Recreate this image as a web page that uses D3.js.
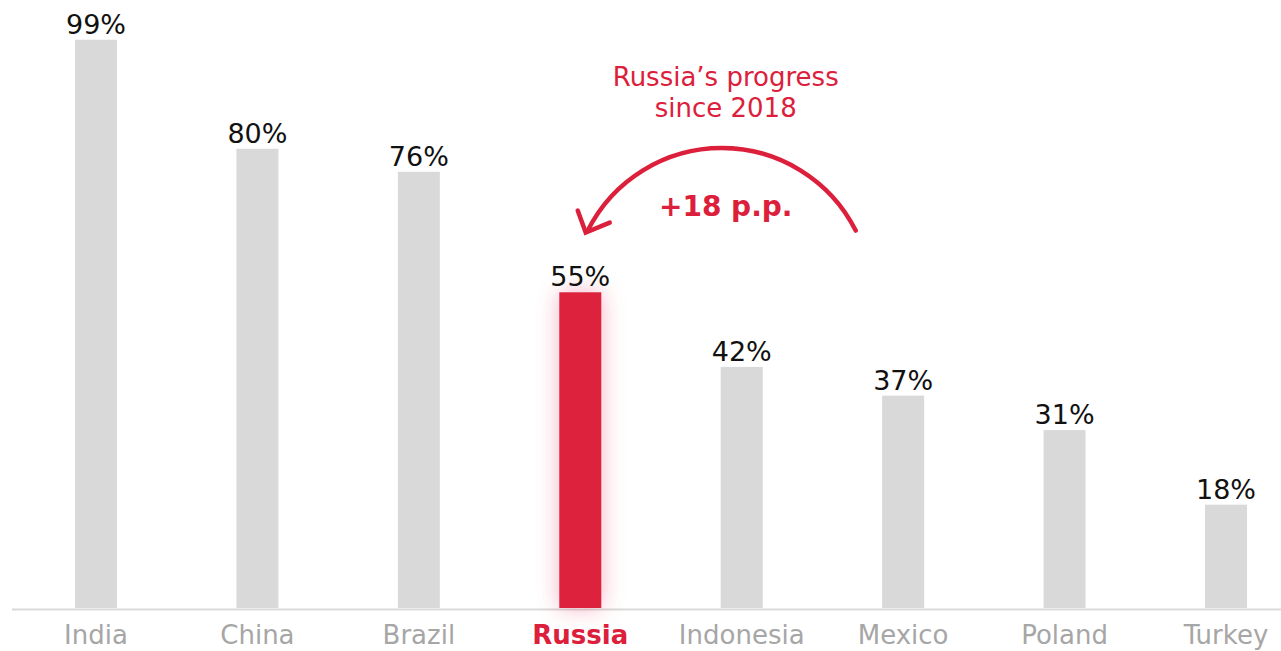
<!DOCTYPE html>
<html lang="en">
<head>
<meta charset="UTF-8">
<script src="https://d3js.org/d3.v7.min.js"></script>
<title>Share by country</title>
<style>
  body { margin: 0; background: #fff; }
  svg text { font-family: "DejaVu Sans", Verdana, sans-serif; }
</style>
</head>
<body>
<svg id="chart" width="1281" height="651"></svg>
<script>
// data
var countries = ["India", "China", "Brazil", "Russia", "Indonesia", "Mexico", "Poland", "Turkey"];
var shares = [99, 80, 76, 55, 42, 37, 31, 18];
var highlight = "Russia";
var noteLines = ["Russia\u2019s progress", "since 2018"];
var noteValue = "+18 p.p.";

var red = "#dc203c";
var grey = "#d9d9d9";

var svg = d3.select("#chart");

var x = d3.scalePoint()
    .domain(countries)
    .range([96, 1226]);

var y = d3.scaleLinear()
    .domain([0, 100])
    .range([608, 34]);

var barW = 42;

// glow for the highlighted bar
var defs = svg.append("defs");
var f = defs.append("filter").attr("id", "glow")
    .attr("x", "-150%").attr("y", "-20%").attr("width", "400%").attr("height", "140%");
f.append("feGaussianBlur").attr("in", "SourceAlpha").attr("stdDeviation", 11).attr("result", "b");
f.append("feFlood").attr("flood-color", red).attr("flood-opacity", 0.3);
f.append("feComposite").attr("in2", "b").attr("operator", "in").attr("result", "g");
var m = f.append("feMerge");
m.append("feMergeNode").attr("in", "g");
m.append("feMergeNode").attr("in", "SourceGraphic");

var data = countries.map(function(c, i){ return {c: c, v: shares[i]}; });

// baseline
svg.append("line")
    .attr("x1", 12).attr("x2", 1281)
    .attr("y1", y(0) + 1.5).attr("y2", y(0) + 1.5)
    .attr("stroke", grey).attr("stroke-width", 2);

svg.selectAll(".bar")
    .data(data)
    .enter().append("rect")
    .attr("class", "bar")
    .attr("x", function(d){ return x(d.c) - barW / 2; })
    .attr("y", function(d){ return y(d.v); })
    .attr("width", barW)
    .attr("height", function(d){ return y(0) - y(d.v); })
    .attr("fill", function(d){ return d.c == highlight ? red : grey; })
    .attr("filter", function(d){ return d.c == highlight ? "url(#glow)" : null; });

svg.selectAll(".val")
    .data(data)
    .enter().append("text")
    .attr("class", "val")
    .attr("x", function(d){ return x(d.c); })
    .attr("y", function(d){ return y(d.v) - 6; })
    .attr("text-anchor", "middle")
    .style("font-size", "27px")
    .attr("fill", "#111")
    .text(function(d){ return d.v + "%"; });

svg.selectAll(".cat")
    .data(data)
    .enter().append("text")
    .attr("class", "cat")
    .attr("x", function(d){ return x(d.c); })
    .attr("y", 644)
    .attr("text-anchor", "middle")
    .style("font-size", "26px")
    .style("font-weight", function(d){ return d.c == highlight ? "bold" : "normal"; })
    .attr("fill", function(d){ return d.c == highlight ? red : "#a6a6a6"; })
    .text(function(d){ return d.c; });

// annotation: curved arrow from Mexico side back to Russia
var cx = (x("Russia") + x("Mexico")) / 2 - 20;
var cy = 298, r = 150;
var x0 = cx + 134, x1 = cx - 134;
var yEnd = cy - Math.sqrt(r * r - 134 * 134);
var g = svg.append("g").attr("fill", "none").attr("stroke", red)
    .attr("stroke-width", 4.5).attr("stroke-linecap", "round");
g.append("path")
    .attr("d", "M" + x0 + "," + yEnd + " A" + r + "," + r + " 0 0 0 " + x1 + "," + yEnd);
// arrow head
var tipX = x1 - 2, tipY = yEnd + 2;
g.append("path")
    .attr("d", "M" + (tipX - 8) + "," + (tipY - 22) + " L" + tipX + "," + tipY + " L" + (tipX + 24) + "," + (tipY - 10))
    .attr("stroke-linejoin", "miter");

svg.append("text")
    .attr("x", cx + 4).attr("y", 216)
    .attr("text-anchor", "middle")
    .style("font-size", "28px").style("font-weight", "bold")
    .attr("fill", red)
    .text(noteValue);

svg.selectAll(".note")
    .data(noteLines)
    .enter().append("text")
    .attr("class", "note")
    .attr("x", cx + 4)
    .attr("y", function(d, i){ return 86 + i * 31; })
    .attr("text-anchor", "middle")
    .style("font-size", "26px")
    .attr("fill", red)
    .text(function(d){ return d; });
</script>
</body>
</html>
